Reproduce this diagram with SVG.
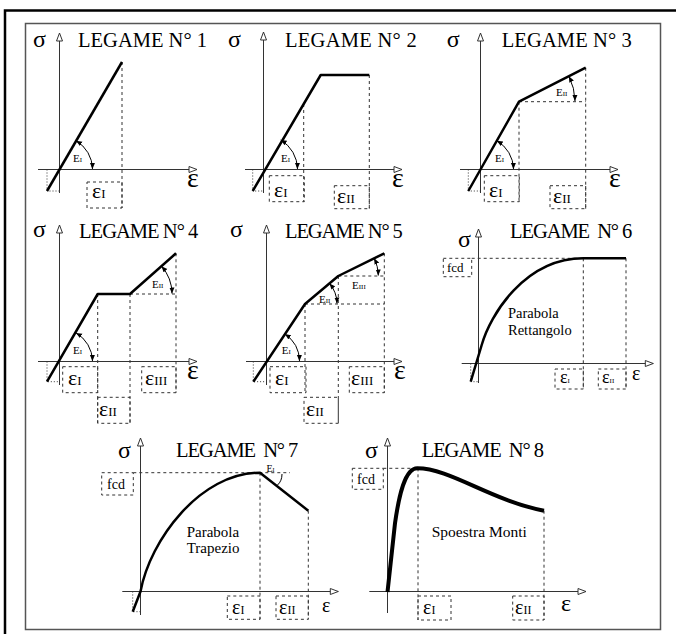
<svg xmlns="http://www.w3.org/2000/svg" width="685" height="634" viewBox="0 0 685 634">
<style>
text{font-family:"Liberation Serif","Times New Roman",serif;fill:#000}
.ax{stroke:#333;stroke-width:1;fill:none;marker-end:url(#ha)}
.th{stroke:#000;stroke-width:2.5;fill:none;stroke-linejoin:round}
.da{stroke:#333;stroke-width:1;stroke-dasharray:3,3;fill:none}
.dt{stroke:#333;stroke-width:1;stroke-dasharray:1,2;fill:none}
.arc{stroke:#000;stroke-width:1;fill:none;marker-start:url(#sa);marker-end:url(#sa)}
.ti{font-size:20.5px;white-space:pre}
.sg{font-size:24px}
.eb{font-size:22px}
.ea{font-size:28px}
.es{font-size:11px}
.pt{font-size:15px}
</style>
<defs>
<marker id="ha" markerWidth="10" markerHeight="10" refX="9" refY="5" orient="auto" markerUnits="userSpaceOnUse"><path d="M1,2 L9,5 L1,8 Z" fill="#fff" stroke="#333" stroke-width="1"/></marker>
<marker id="sa" markerWidth="8" markerHeight="6" refX="6" refY="3" orient="auto-start-reverse" markerUnits="userSpaceOnUse"><path d="M0,0.5 L6,3 L0,5.5 Z" fill="#000"/></marker>
</defs>
<rect width="685" height="634" fill="#fff"/>
<path d="M5,634 V10.5 H676" stroke="#000" stroke-width="2.5" fill="none"/>
<rect x="25.5" y="23.5" width="635" height="606" stroke="#555" stroke-width="1.5" fill="none"/>

<g id="legame1">
<text class="ti" x="78" y="47" textLength="129">LEGAME N° 1</text>
<text class="sg" x="33" y="47">σ</text>
<path class="ax" d="M59.5,193 V33"/>
<path class="ax" d="M38,169.5 H197"/>
<path class="dt" d="M47,169.5 V191 H59.5"/>
<path class="da" d="M122,62 V208"/>
<path class="th" d="M47,191 L122,62"/>
<path class="arc" d="M76,140.8 A33,33 0 0 1 92.5,169"/>
<text class="es" x="73" y="162">E<tspan font-size="7">I</tspan></text>
<rect class="da" x="87" y="182" width="35" height="26"/>
<text class="eb" x="92" y="198">ε<tspan font-size="13">I</tspan></text>
<text class="ea" x="187" y="186.5">ε</text>
</g>

<g id="legame2">
<text class="ti" x="285" y="47" textLength="131.7">LEGAME N° 2</text>
<text class="sg" x="228" y="47">σ</text>
<path class="ax" d="M263.5,193 V32"/>
<path class="ax" d="M245,169.5 H402"/>
<path class="dt" d="M252.7,169.5 V191 H263.5"/>
<path class="da" d="M303.7,104 V201.7 M369.3,75 V208.7"/>
<path class="th" d="M252.7,191 L320.7,75 H369.3"/>
<path class="arc" d="M280.7,140 A34,34 0 0 1 297.5,169"/>
<text class="es" x="281" y="162">E<tspan font-size="7">I</tspan></text>
<rect class="da" x="269.3" y="175.7" width="35" height="26"/>
<text class="eb" x="274" y="197">ε<tspan font-size="13">I</tspan></text>
<rect class="da" x="334.3" y="185.7" width="35" height="23"/>
<text class="eb" x="337" y="203">ε<tspan font-size="13">II</tspan></text>
<text class="ea" x="392" y="186.5">ε</text>
</g>

<g id="legame3">
<text class="ti" x="501.7" y="47" textLength="130">LEGAME N° 3</text>
<text class="sg" x="446.7" y="47">σ</text>
<path class="ax" d="M480.5,193 V33"/>
<path class="ax" d="M460,169.5 H618"/>
<path class="dt" d="M468.3,169.5 V191 H480.5"/>
<path class="da" d="M519,101.7 V201.7 M519,101.7 H585.7 M585.7,67.7 V208.7"/>
<path class="th" d="M468.3,191 L519,101.7 L585.7,67.7"/>
<path class="arc" d="M496.8,140.8 A33,33 0 0 1 513.5,169"/>
<text class="es" x="495" y="162">E<tspan font-size="7">I</tspan></text>
<path class="arc" d="M568.9,76.3 A56,56 0 0 1 575,101"/>
<text class="es" x="556" y="96">E<tspan font-size="7">II</tspan></text>
<rect class="da" x="484.3" y="175.7" width="35" height="26"/>
<text class="eb" x="489" y="197">ε<tspan font-size="13">I</tspan></text>
<rect class="da" x="550" y="185.7" width="35.7" height="23"/>
<text class="eb" x="553" y="203">ε<tspan font-size="13">II</tspan></text>
<text class="ea" x="609" y="186.5">ε</text>
</g>

<g id="legame4">
<text class="ti" x="79" y="238" textLength="119.3">LEGAME N° 4</text>
<text class="sg" x="33" y="237">σ</text>
<path class="ax" d="M59.5,385 V225"/>
<path class="ax" d="M38,361.5 H197"/>
<path class="dt" d="M47,361.5 V381.7 H59.5"/>
<path class="da" d="M97.7,294 V423 M130,294 V423 M130,294 H176 M176,253.3 V392.7"/>
<path class="th" d="M47,381.7 L97.7,294 H130 L176,253.3"/>
<path class="arc" d="M76,332.9 A33,33 0 0 1 92.5,361"/>
<text class="es" x="73" y="354">E<tspan font-size="7">I</tspan></text>
<path class="arc" d="M161.5,266.2 A42,42 0 0 1 172,293.5"/>
<text class="es" x="152" y="288">E<tspan font-size="7">II</tspan></text>
<rect class="da" x="62.7" y="366.7" width="35" height="26"/>
<text class="eb" x="68" y="385">ε<tspan font-size="13">I</tspan></text>
<rect class="da" x="141.7" y="366.7" width="34.3" height="26"/>
<text class="eb" x="145" y="385">ε<tspan font-size="13">III</tspan></text>
<rect class="da" x="97.7" y="397.3" width="32.3" height="26"/>
<text class="eb" x="99" y="416">ε<tspan font-size="13">II</tspan></text>
<text class="ea" x="187" y="378.5">ε</text>
</g>

<g id="legame5">
<text class="ti" x="285" y="238" textLength="117.7">LEGAME N° 5</text>
<text class="sg" x="230" y="237">σ</text>
<path class="ax" d="M266.5,385 V225"/>
<path class="ax" d="M246,361.5 H402"/>
<path class="dt" d="M253.3,361.5 V381.7 H266.5"/>
<path class="da" d="M305,304 V392.7 M305,304 H384.3 M338.3,276 V423 M338.3,276 H384.3 M384.3,253.3 V392.7"/>
<path class="th" d="M253.3,381.7 L305,304 L338.3,276 L384.3,253.3"/>
<path class="arc" d="M284.8,334 A33,33 0 0 1 299.5,361"/>
<text class="es" x="281.7" y="354">E<tspan font-size="7">I</tspan></text>
<path class="arc" d="M329.5,283.4 A32,32 0 0 1 337,303.5"/>
<text class="es" x="319" y="303">E<tspan font-size="7">II</tspan></text>
<path class="arc" d="M374.2,258.3 A40,40 0 0 1 378.3,275.5"/>
<text class="es" x="352" y="289">E<tspan font-size="7">III</tspan></text>
<rect class="da" x="270" y="366.7" width="36" height="26"/>
<text class="eb" x="275" y="385">ε<tspan font-size="13">I</tspan></text>
<rect class="da" x="349.3" y="366.7" width="35" height="26"/>
<text class="eb" x="351" y="385">ε<tspan font-size="13">III</tspan></text>
<rect class="da" x="304" y="397.3" width="34.3" height="26"/>
<text class="eb" x="306" y="416">ε<tspan font-size="13">II</tspan></text>
<text class="ea" x="394" y="378.5">ε</text>
</g>

<g id="legame6">
<text class="ti" x="510" y="238" textLength="122.3">LEGAME  N° 6</text>
<text class="sg" x="458" y="247">σ</text>
<path class="ax" d="M478.5,383 V229"/>
<path class="ax" d="M461.7,363.5 H653.3"/>
<path class="dt" d="M470.7,363.5 V381.7 H478.5"/>
<path class="da" d="M471.7,258.3 H583.3 M583.3,258.3 V389 M626,258.3 V389"/>
<path class="th" d="M470.7,381.7 L481.7,345 C490,315 525,258.3 583.3,258.3 H626"/>
<rect class="da" x="443.3" y="258.3" width="28.4" height="18.4"/>
<text x="447" y="272" font-size="13">fcd</text>
<text x="508" y="318" font-size="14.5">Parabola</text>
<text x="508" y="335" font-size="14.5">Rettangolo</text>
<rect class="da" x="555" y="369" width="28.3" height="20"/>
<text x="560" y="383" font-size="18">ε<tspan font-size="7">I</tspan></text>
<rect class="da" x="598.3" y="369" width="27.7" height="20"/>
<text x="602" y="383" font-size="18">ε<tspan font-size="7">II</tspan></text>
<text x="632" y="380" font-size="20">ε</text>
</g>

<g id="legame7">
<text class="ti" x="176" y="457" textLength="122.3">LEGAME  N° 7</text>
<text class="sg" x="118" y="458">σ</text>
<path class="ax" d="M140.5,615 V438"/>
<path class="ax" d="M122.3,591.5 H338.3"/>
<path class="dt" d="M132.7,591.5 V611.7 H140.5"/>
<path class="da" d="M133.3,472.7 H290 M260,472.7 V619.3 M308.3,510.7 V619.3"/>
<path class="th" d="M132.7,611.7 L140.5,591.5 C150,540 200,472.7 260,472.7 L308.3,510.7"/>
<path d="M277.5,485 Q282,481 282,474" stroke="#000" stroke-width="1" fill="none"/>
<text x="266.5" y="472" font-size="10">E<tspan font-size="6">I</tspan></text>
<rect class="da" x="101.7" y="472.7" width="31.6" height="22.3"/>
<text x="107" y="489" font-size="14">fcd</text>
<text class="pt" x="186.7" y="536.7">Parabola</text>
<text class="pt" x="186.7" y="553.3">Trapezio</text>
<rect class="da" x="227.3" y="596" width="32.7" height="23.3"/>
<text x="232" y="614" font-size="20">ε<tspan font-size="12">I</tspan></text>
<rect class="da" x="276" y="596" width="32.3" height="23.3"/>
<text x="279" y="614" font-size="20">ε<tspan font-size="12">II</tspan></text>
<text x="322" y="612" font-size="20">ε</text>
</g>

<g id="legame8">
<text class="ti" x="421.7" y="457" textLength="122.3">LEGAME  N° 8</text>
<text class="sg" x="365" y="458">σ</text>
<path class="ax" d="M387.5,613 V438"/>
<path class="ax" d="M369.3,591.5 H586"/>
<path class="da" d="M383.3,468.3 H418 M418,468.3 V620 M544,510.7 V620"/>
<path d="M387.5,592 L395,523.3 C399,495 405,468.3 417.3,468.3 C450,468.3 490,500 544,510.7" stroke="#000" stroke-width="4" fill="none" stroke-linejoin="round"/>
<rect class="da" x="352.3" y="468.3" width="31" height="21"/>
<text x="357" y="484" font-size="14">fcd</text>
<text x="431.7" y="536.7" font-size="15.5">Spoestra Monti</text>
<rect class="da" x="418" y="596" width="33" height="24"/>
<text x="423" y="614" font-size="20">ε<tspan font-size="12">I</tspan></text>
<rect class="da" x="512.7" y="596" width="31.3" height="24"/>
<text x="515" y="614" font-size="20">ε<tspan font-size="12">II</tspan></text>
<text x="561" y="611" font-size="24">ε</text>
</g>
</svg>
